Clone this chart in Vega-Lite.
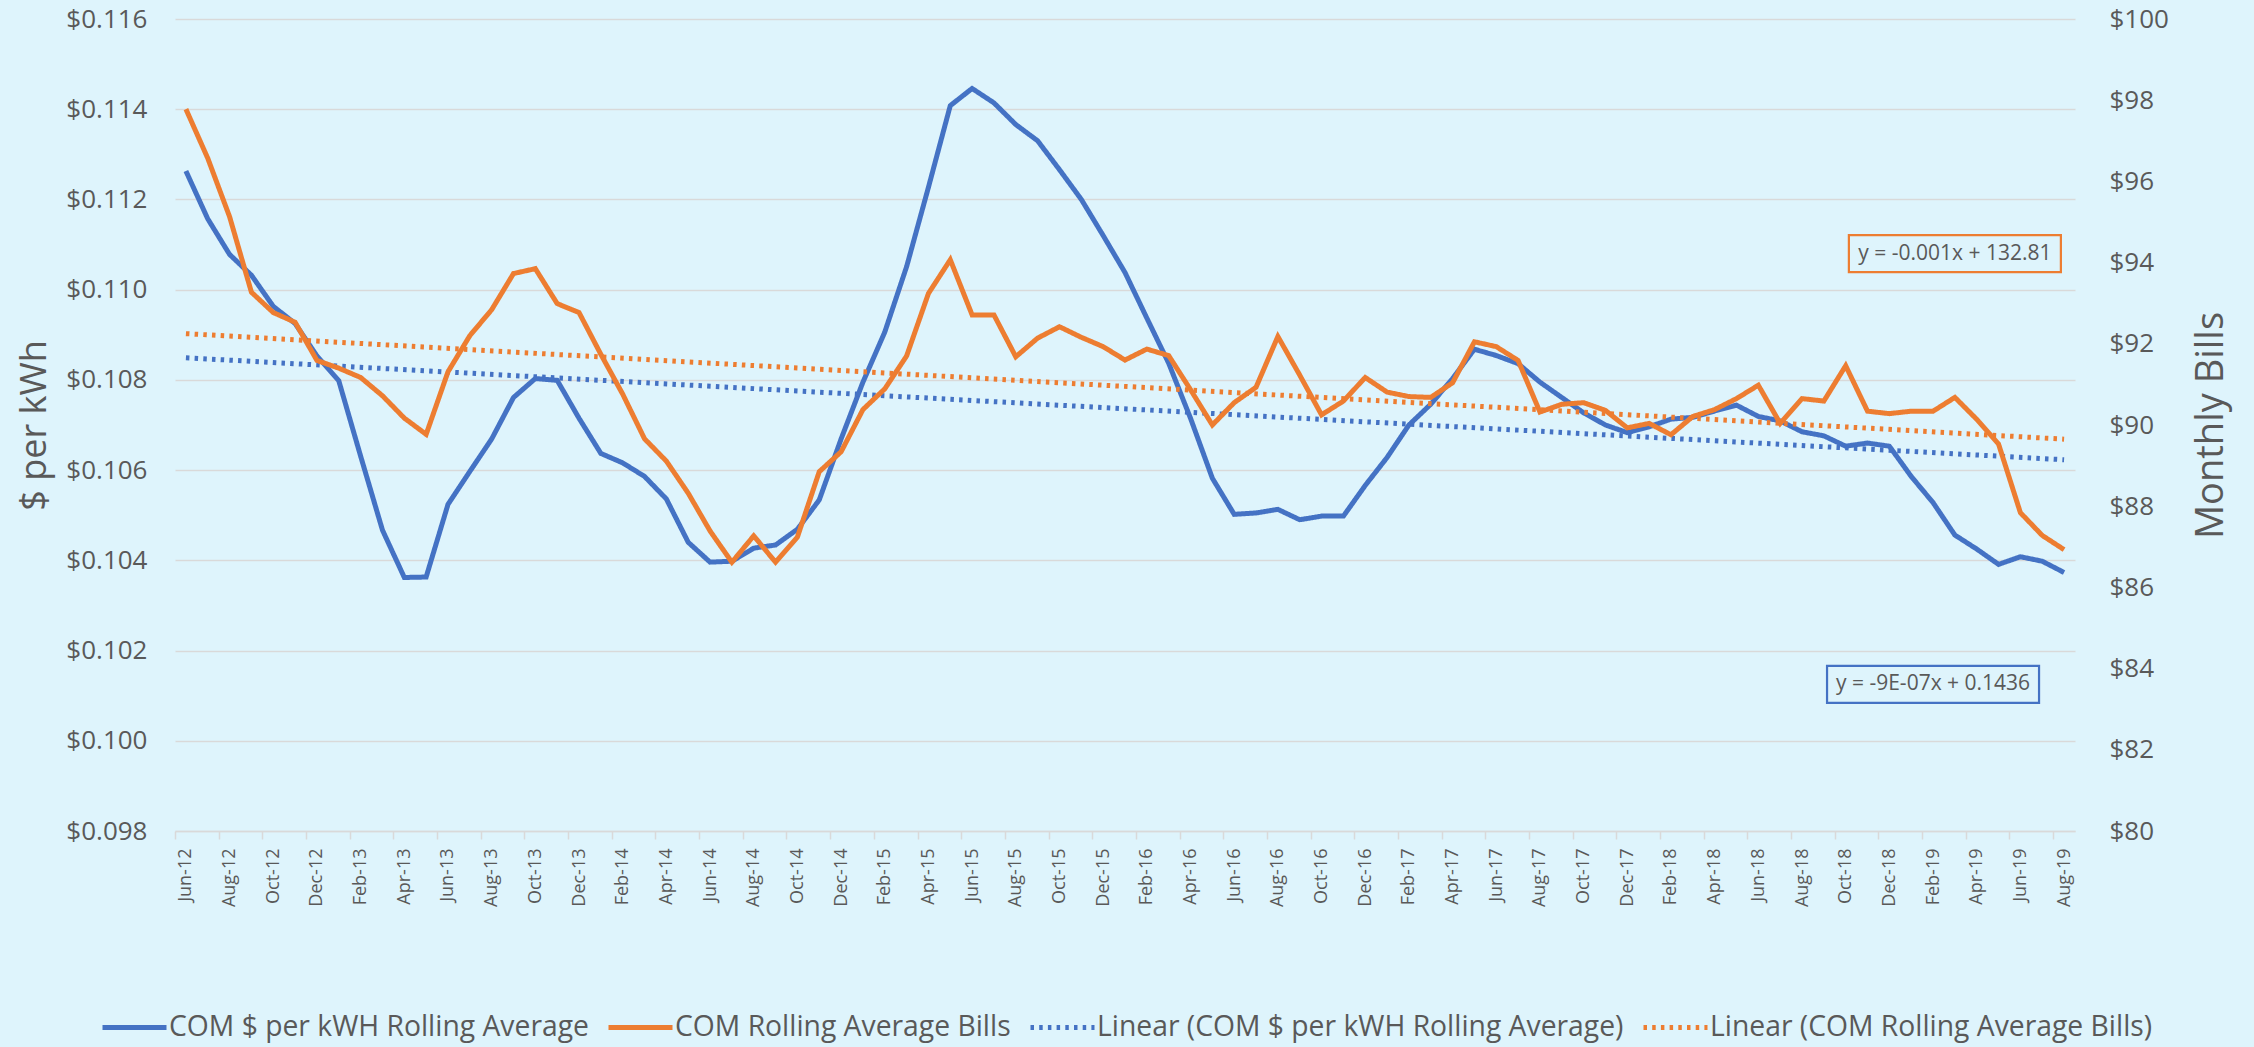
{
"$schema": "https://vega.github.io/schema/vega-lite/v6.json",
"width": 1900, "height": 812,
"autosize": {"type": "none"},
"padding": {"left": 175, "top": 19, "right": 179, "bottom": 216},
"background": "#def4fc",
"config": {
  "view": {"stroke": null},
  "font": "Open Sans",
  "axis": {"labelFont": "Open Sans", "titleFont": "Open Sans", "labelColor": "#595959", "titleColor": "#595959", "titleFontWeight": "normal"},
  "legend": {"labelFont": "Open Sans", "labelFontSize": 28.3, "labelColor": "#595959", "labelLimit": 1000, "symbolType": "stroke", "symbolSize": 4096, "labelOffset": 0, "columnPadding": 9, "direction": "horizontal"}
},
"datasets": {
  "rate": [
    {"month":"Jun-12","series":"COM $ per kWH Rolling Average","value":0.11263},
    {"month":"Jul-12","series":"COM $ per kWH Rolling Average","value":0.11157},
    {"month":"Aug-12","series":"COM $ per kWH Rolling Average","value":0.11078},
    {"month":"Sep-12","series":"COM $ per kWH Rolling Average","value":0.11032},
    {"month":"Oct-12","series":"COM $ per kWH Rolling Average","value":0.10963},
    {"month":"Nov-12","series":"COM $ per kWH Rolling Average","value":0.10925},
    {"month":"Dec-12","series":"COM $ per kWH Rolling Average","value":0.10853},
    {"month":"Jan-13","series":"COM $ per kWH Rolling Average","value":0.10798},
    {"month":"Feb-13","series":"COM $ per kWH Rolling Average","value":0.10631},
    {"month":"Mar-13","series":"COM $ per kWH Rolling Average","value":0.10467},
    {"month":"Apr-13","series":"COM $ per kWH Rolling Average","value":0.10362},
    {"month":"May-13","series":"COM $ per kWH Rolling Average","value":0.10363},
    {"month":"Jun-13","series":"COM $ per kWH Rolling Average","value":0.10524},
    {"month":"Jul-13","series":"COM $ per kWH Rolling Average","value":0.10597},
    {"month":"Aug-13","series":"COM $ per kWH Rolling Average","value":0.10669},
    {"month":"Sep-13","series":"COM $ per kWH Rolling Average","value":0.10761},
    {"month":"Oct-13","series":"COM $ per kWH Rolling Average","value":0.10803},
    {"month":"Nov-13","series":"COM $ per kWH Rolling Average","value":0.10799},
    {"month":"Dec-13","series":"COM $ per kWH Rolling Average","value":0.10715},
    {"month":"Jan-14","series":"COM $ per kWH Rolling Average","value":0.10637},
    {"month":"Feb-14","series":"COM $ per kWH Rolling Average","value":0.10616},
    {"month":"Mar-14","series":"COM $ per kWH Rolling Average","value":0.10586},
    {"month":"Apr-14","series":"COM $ per kWH Rolling Average","value":0.10536},
    {"month":"May-14","series":"COM $ per kWH Rolling Average","value":0.10440},
    {"month":"Jun-14","series":"COM $ per kWH Rolling Average","value":0.10396},
    {"month":"Jul-14","series":"COM $ per kWH Rolling Average","value":0.10398},
    {"month":"Aug-14","series":"COM $ per kWH Rolling Average","value":0.10427},
    {"month":"Sep-14","series":"COM $ per kWH Rolling Average","value":0.10434},
    {"month":"Oct-14","series":"COM $ per kWH Rolling Average","value":0.10469},
    {"month":"Nov-14","series":"COM $ per kWH Rolling Average","value":0.10534},
    {"month":"Dec-14","series":"COM $ per kWH Rolling Average","value":0.10669},
    {"month":"Jan-15","series":"COM $ per kWH Rolling Average","value":0.10795},
    {"month":"Feb-15","series":"COM $ per kWH Rolling Average","value":0.10906},
    {"month":"Mar-15","series":"COM $ per kWH Rolling Average","value":0.11051},
    {"month":"Apr-15","series":"COM $ per kWH Rolling Average","value":0.11227},
    {"month":"May-15","series":"COM $ per kWH Rolling Average","value":0.11408},
    {"month":"Jun-15","series":"COM $ per kWH Rolling Average","value":0.11446},
    {"month":"Jul-15","series":"COM $ per kWH Rolling Average","value":0.11414},
    {"month":"Aug-15","series":"COM $ per kWH Rolling Average","value":0.11366},
    {"month":"Sep-15","series":"COM $ per kWH Rolling Average","value":0.11330},
    {"month":"Oct-15","series":"COM $ per kWH Rolling Average","value":0.11266},
    {"month":"Nov-15","series":"COM $ per kWH Rolling Average","value":0.11200},
    {"month":"Dec-15","series":"COM $ per kWH Rolling Average","value":0.11120},
    {"month":"Jan-16","series":"COM $ per kWH Rolling Average","value":0.11038},
    {"month":"Feb-16","series":"COM $ per kWH Rolling Average","value":0.10937},
    {"month":"Mar-16","series":"COM $ per kWH Rolling Average","value":0.10837},
    {"month":"Apr-16","series":"COM $ per kWH Rolling Average","value":0.10715},
    {"month":"May-16","series":"COM $ per kWH Rolling Average","value":0.10582},
    {"month":"Jun-16","series":"COM $ per kWH Rolling Average","value":0.10502},
    {"month":"Jul-16","series":"COM $ per kWH Rolling Average","value":0.10505},
    {"month":"Aug-16","series":"COM $ per kWH Rolling Average","value":0.10513},
    {"month":"Sep-16","series":"COM $ per kWH Rolling Average","value":0.10490},
    {"month":"Oct-16","series":"COM $ per kWH Rolling Average","value":0.10498},
    {"month":"Nov-16","series":"COM $ per kWH Rolling Average","value":0.10498},
    {"month":"Dec-16","series":"COM $ per kWH Rolling Average","value":0.10566},
    {"month":"Jan-17","series":"COM $ per kWH Rolling Average","value":0.10628},
    {"month":"Feb-17","series":"COM $ per kWH Rolling Average","value":0.10700},
    {"month":"Mar-17","series":"COM $ per kWH Rolling Average","value":0.10746},
    {"month":"Apr-17","series":"COM $ per kWH Rolling Average","value":0.10803},
    {"month":"May-17","series":"COM $ per kWH Rolling Average","value":0.10868},
    {"month":"Jun-17","series":"COM $ per kWH Rolling Average","value":0.10854},
    {"month":"Jul-17","series":"COM $ per kWH Rolling Average","value":0.10836},
    {"month":"Aug-17","series":"COM $ per kWH Rolling Average","value":0.10795},
    {"month":"Sep-17","series":"COM $ per kWH Rolling Average","value":0.10761},
    {"month":"Oct-17","series":"COM $ per kWH Rolling Average","value":0.10727},
    {"month":"Nov-17","series":"COM $ per kWH Rolling Average","value":0.10700},
    {"month":"Dec-17","series":"COM $ per kWH Rolling Average","value":0.10683},
    {"month":"Jan-18","series":"COM $ per kWH Rolling Average","value":0.10696},
    {"month":"Feb-18","series":"COM $ per kWH Rolling Average","value":0.10713},
    {"month":"Mar-18","series":"COM $ per kWH Rolling Average","value":0.10717},
    {"month":"Apr-18","series":"COM $ per kWH Rolling Average","value":0.10731},
    {"month":"May-18","series":"COM $ per kWH Rolling Average","value":0.10744},
    {"month":"Jun-18","series":"COM $ per kWH Rolling Average","value":0.10719},
    {"month":"Jul-18","series":"COM $ per kWH Rolling Average","value":0.10709},
    {"month":"Aug-18","series":"COM $ per kWH Rolling Average","value":0.10685},
    {"month":"Sep-18","series":"COM $ per kWH Rolling Average","value":0.10676},
    {"month":"Oct-18","series":"COM $ per kWH Rolling Average","value":0.10653},
    {"month":"Nov-18","series":"COM $ per kWH Rolling Average","value":0.10660},
    {"month":"Dec-18","series":"COM $ per kWH Rolling Average","value":0.10653},
    {"month":"Jan-19","series":"COM $ per kWH Rolling Average","value":0.10586},
    {"month":"Feb-19","series":"COM $ per kWH Rolling Average","value":0.10528},
    {"month":"Mar-19","series":"COM $ per kWH Rolling Average","value":0.10456},
    {"month":"Apr-19","series":"COM $ per kWH Rolling Average","value":0.10425},
    {"month":"May-19","series":"COM $ per kWH Rolling Average","value":0.10391},
    {"month":"Jun-19","series":"COM $ per kWH Rolling Average","value":0.10408},
    {"month":"Jul-19","series":"COM $ per kWH Rolling Average","value":0.10398},
    {"month":"Aug-19","series":"COM $ per kWH Rolling Average","value":0.10373}
  ],
  "bills": [
    {"month":"Jun-12","series":"COM Rolling Average Bills","value":97.78},
    {"month":"Jul-12","series":"COM Rolling Average Bills","value":96.57},
    {"month":"Aug-12","series":"COM Rolling Average Bills","value":95.13},
    {"month":"Sep-12","series":"COM Rolling Average Bills","value":93.27},
    {"month":"Oct-12","series":"COM Rolling Average Bills","value":92.77},
    {"month":"Nov-12","series":"COM Rolling Average Bills","value":92.53},
    {"month":"Dec-12","series":"COM Rolling Average Bills","value":91.59},
    {"month":"Jan-13","series":"COM Rolling Average Bills","value":91.40},
    {"month":"Feb-13","series":"COM Rolling Average Bills","value":91.17},
    {"month":"Mar-13","series":"COM Rolling Average Bills","value":90.72},
    {"month":"Apr-13","series":"COM Rolling Average Bills","value":90.17},
    {"month":"May-13","series":"COM Rolling Average Bills","value":89.77},
    {"month":"Jun-13","series":"COM Rolling Average Bills","value":91.31},
    {"month":"Jul-13","series":"COM Rolling Average Bills","value":92.20},
    {"month":"Aug-13","series":"COM Rolling Average Bills","value":92.84},
    {"month":"Sep-13","series":"COM Rolling Average Bills","value":93.73},
    {"month":"Oct-13","series":"COM Rolling Average Bills","value":93.85},
    {"month":"Nov-13","series":"COM Rolling Average Bills","value":92.99},
    {"month":"Dec-13","series":"COM Rolling Average Bills","value":92.77},
    {"month":"Jan-14","series":"COM Rolling Average Bills","value":91.74},
    {"month":"Feb-14","series":"COM Rolling Average Bills","value":90.76},
    {"month":"Mar-14","series":"COM Rolling Average Bills","value":89.66},
    {"month":"Apr-14","series":"COM Rolling Average Bills","value":89.11},
    {"month":"May-14","series":"COM Rolling Average Bills","value":88.32},
    {"month":"Jun-14","series":"COM Rolling Average Bills","value":87.39},
    {"month":"Jul-14","series":"COM Rolling Average Bills","value":86.62},
    {"month":"Aug-14","series":"COM Rolling Average Bills","value":87.27},
    {"month":"Sep-14","series":"COM Rolling Average Bills","value":86.62},
    {"month":"Oct-14","series":"COM Rolling Average Bills","value":87.24},
    {"month":"Nov-14","series":"COM Rolling Average Bills","value":88.85},
    {"month":"Dec-14","series":"COM Rolling Average Bills","value":89.34},
    {"month":"Jan-15","series":"COM Rolling Average Bills","value":90.38},
    {"month":"Feb-15","series":"COM Rolling Average Bills","value":90.89},
    {"month":"Mar-15","series":"COM Rolling Average Bills","value":91.70},
    {"month":"Apr-15","series":"COM Rolling Average Bills","value":93.24},
    {"month":"May-15","series":"COM Rolling Average Bills","value":94.07},
    {"month":"Jun-15","series":"COM Rolling Average Bills","value":92.71},
    {"month":"Jul-15","series":"COM Rolling Average Bills","value":92.71},
    {"month":"Aug-15","series":"COM Rolling Average Bills","value":91.68},
    {"month":"Sep-15","series":"COM Rolling Average Bills","value":92.14},
    {"month":"Oct-15","series":"COM Rolling Average Bills","value":92.42},
    {"month":"Nov-15","series":"COM Rolling Average Bills","value":92.16},
    {"month":"Dec-15","series":"COM Rolling Average Bills","value":91.93},
    {"month":"Jan-16","series":"COM Rolling Average Bills","value":91.60},
    {"month":"Feb-16","series":"COM Rolling Average Bills","value":91.87},
    {"month":"Mar-16","series":"COM Rolling Average Bills","value":91.71},
    {"month":"Apr-16","series":"COM Rolling Average Bills","value":90.87},
    {"month":"May-16","series":"COM Rolling Average Bills","value":90.00},
    {"month":"Jun-16","series":"COM Rolling Average Bills","value":90.55},
    {"month":"Jul-16","series":"COM Rolling Average Bills","value":90.93},
    {"month":"Aug-16","series":"COM Rolling Average Bills","value":92.18},
    {"month":"Sep-16","series":"COM Rolling Average Bills","value":91.23},
    {"month":"Oct-16","series":"COM Rolling Average Bills","value":90.25},
    {"month":"Nov-16","series":"COM Rolling Average Bills","value":90.59},
    {"month":"Dec-16","series":"COM Rolling Average Bills","value":91.17},
    {"month":"Jan-17","series":"COM Rolling Average Bills","value":90.81},
    {"month":"Feb-17","series":"COM Rolling Average Bills","value":90.70},
    {"month":"Mar-17","series":"COM Rolling Average Bills","value":90.68},
    {"month":"Apr-17","series":"COM Rolling Average Bills","value":91.04},
    {"month":"May-17","series":"COM Rolling Average Bills","value":92.05},
    {"month":"Jun-17","series":"COM Rolling Average Bills","value":91.93},
    {"month":"Jul-17","series":"COM Rolling Average Bills","value":91.59},
    {"month":"Aug-17","series":"COM Rolling Average Bills","value":90.32},
    {"month":"Sep-17","series":"COM Rolling Average Bills","value":90.51},
    {"month":"Oct-17","series":"COM Rolling Average Bills","value":90.55},
    {"month":"Nov-17","series":"COM Rolling Average Bills","value":90.36},
    {"month":"Dec-17","series":"COM Rolling Average Bills","value":89.93},
    {"month":"Jan-18","series":"COM Rolling Average Bills","value":90.04},
    {"month":"Feb-18","series":"COM Rolling Average Bills","value":89.76},
    {"month":"Mar-18","series":"COM Rolling Average Bills","value":90.21},
    {"month":"Apr-18","series":"COM Rolling Average Bills","value":90.38},
    {"month":"May-18","series":"COM Rolling Average Bills","value":90.65},
    {"month":"Jun-18","series":"COM Rolling Average Bills","value":90.98},
    {"month":"Jul-18","series":"COM Rolling Average Bills","value":90.04},
    {"month":"Aug-18","series":"COM Rolling Average Bills","value":90.65},
    {"month":"Sep-18","series":"COM Rolling Average Bills","value":90.59},
    {"month":"Oct-18","series":"COM Rolling Average Bills","value":91.46},
    {"month":"Nov-18","series":"COM Rolling Average Bills","value":90.34},
    {"month":"Dec-18","series":"COM Rolling Average Bills","value":90.28},
    {"month":"Jan-19","series":"COM Rolling Average Bills","value":90.34},
    {"month":"Feb-19","series":"COM Rolling Average Bills","value":90.34},
    {"month":"Mar-19","series":"COM Rolling Average Bills","value":90.68},
    {"month":"Apr-19","series":"COM Rolling Average Bills","value":90.14},
    {"month":"May-19","series":"COM Rolling Average Bills","value":89.53},
    {"month":"Jun-19","series":"COM Rolling Average Bills","value":87.84},
    {"month":"Jul-19","series":"COM Rolling Average Bills","value":87.28},
    {"month":"Aug-19","series":"COM Rolling Average Bills","value":86.93}
  ],
  "rateTrend": [
    {"month":"Jun-12","series":"Linear (COM $ per kWH Rolling Average)","value":0.10849},
    {"month":"Aug-19","series":"Linear (COM $ per kWH Rolling Average)","value":0.10623}
  ],
  "billsTrend": [
    {"month":"Jun-12","series":"Linear (COM Rolling Average Bills)","value":92.25},
    {"month":"Aug-19","series":"Linear (COM Rolling Average Bills)","value":89.65}
  ],
  "rateNote": [{"month":"Feb-19","value":0.10125,"label":"y = -9E-07x + 0.1436"}],
  "billsNote": [{"month":"Mar-19","value":94.22,"label":"y = -0.001x + 132.81"}]
},
"layer": [
  {
    "layer": [
      {
        "data": {"name": "rate"},
        "mark": {"type": "line"},
        "encoding": {
          "x": {"field": "month", "type": "ordinal",
            "scale": {"type": "point", "padding": 0.5, "domain": ["Jun-12","Jul-12","Aug-12","Sep-12","Oct-12","Nov-12","Dec-12","Jan-13","Feb-13","Mar-13","Apr-13","May-13","Jun-13","Jul-13","Aug-13","Sep-13","Oct-13","Nov-13","Dec-13","Jan-14","Feb-14","Mar-14","Apr-14","May-14","Jun-14","Jul-14","Aug-14","Sep-14","Oct-14","Nov-14","Dec-14","Jan-15","Feb-15","Mar-15","Apr-15","May-15","Jun-15","Jul-15","Aug-15","Sep-15","Oct-15","Nov-15","Dec-15","Jan-16","Feb-16","Mar-16","Apr-16","May-16","Jun-16","Jul-16","Aug-16","Sep-16","Oct-16","Nov-16","Dec-16","Jan-17","Feb-17","Mar-17","Apr-17","May-17","Jun-17","Jul-17","Aug-17","Sep-17","Oct-17","Nov-17","Dec-17","Jan-18","Feb-18","Mar-18","Apr-18","May-18","Jun-18","Jul-18","Aug-18","Sep-18","Oct-18","Nov-18","Dec-18","Jan-19","Feb-19","Mar-19","Apr-19","May-19","Jun-19","Jul-19","Aug-19"]},
            "axis": {"values": ["Jun-12","Aug-12","Oct-12","Dec-12","Feb-13","Apr-13","Jun-13","Aug-13","Oct-13","Dec-13","Feb-14","Apr-14","Jun-14","Aug-14","Oct-14","Dec-14","Feb-15","Apr-15","Jun-15","Aug-15","Oct-15","Dec-15","Feb-16","Apr-16","Jun-16","Aug-16","Oct-16","Dec-16","Feb-17","Apr-17","Jun-17","Aug-17","Oct-17","Dec-17","Feb-18","Apr-18","Jun-18","Aug-18","Oct-18","Dec-18","Feb-19","Apr-19","Jun-19","Aug-19"],
              "title": null, "labelAngle": -90, "labelFontSize": 18, "labelOverlap": false, "labelPadding": 9,
              "tickColor": "#d9d9d9", "tickSize": 8, "tickWidth": 1.5, "tickOffset": -10.92, "labelOffset": 10.92,
              "domainColor": "#d9d9d9", "domainWidth": 1.5, "grid": false}},
          "y": {"field": "value", "type": "quantitative",
            "scale": {"domain": [0.098, 0.116], "nice": false, "zero": false},
            "axis": {"values": [0.098,0.100,0.102,0.104,0.106,0.108,0.110,0.112,0.114,0.116], "format": "$.3f",
              "labelFontSize": 26, "labelPadding": 28, "domain": false, "ticks": false,
              "grid": true, "gridColor": "#d9d9d9", "gridWidth": 1.5,
              "title": "$ per kWh", "titleFontSize": 36, "titlePadding": 12}},
          "color": {"field": "series", "type": "nominal",
            "scale": {"domain": ["COM $ per kWH Rolling Average","COM Rolling Average Bills","Linear (COM $ per kWH Rolling Average)","Linear (COM Rolling Average Bills)"], "range": ["#4472C4","#ED7D31","#4472C4","#ED7D31"]},
            "legend": {"title": null, "orient": "none", "legendX": -75, "legendY": 974, "direction": "horizontal"}},
          "strokeDash": {"field": "series", "type": "nominal",
            "scale": {"domain": ["COM $ per kWH Rolling Average","COM Rolling Average Bills","Linear (COM $ per kWH Rolling Average)","Linear (COM Rolling Average Bills)"], "range": [[1,0],[1,0],[3.5,5.2],[3.5,5.2]]},
            "legend": {"title": null, "orient": "none", "legendX": -75, "legendY": 974, "direction": "horizontal"}},
          "strokeWidth": {"field": "series", "type": "nominal",
            "scale": {"domain": ["COM $ per kWH Rolling Average","COM Rolling Average Bills","Linear (COM $ per kWH Rolling Average)","Linear (COM Rolling Average Bills)"], "range": [5,5,3.5,3.5]},
            "legend": {"title": null, "orient": "none", "legendX": -75, "legendY": 974, "direction": "horizontal"}}
        }
      },
      {
        "data": {"name": "rateTrend"},
        "mark": {"type": "line"},
        "encoding": {
          "x": {"field": "month", "type": "ordinal"},
          "y": {"field": "value", "type": "quantitative"},
          "color": {"field": "series", "type": "nominal"},
          "strokeDash": {"field": "series", "type": "nominal"},
          "strokeWidth": {"field": "series", "type": "nominal"}
        }
      },
      {
        "data": {"name": "rateNote"},
        "mark": {"type": "point", "shape": "M-1,-0.1745L1,-0.1745L1,0.1745L-1,0.1745Z", "size": 44944, "filled": false, "stroke": "#4472C4", "strokeWidth": 2.2, "opacity": 1},
        "encoding": {
          "x": {"field": "month", "type": "ordinal"},
          "y": {"field": "value", "type": "quantitative"}
        }
      },
      {
        "data": {"name": "rateNote"},
        "mark": {"type": "text", "font": "Open Sans", "fontSize": 21, "color": "#595959", "align": "center", "baseline": "middle"},
        "encoding": {
          "x": {"field": "month", "type": "ordinal"},
          "y": {"field": "value", "type": "quantitative"},
          "text": {"field": "label"}
        }
      }
    ]
  },
  {
    "layer": [
      {
        "data": {"name": "bills"},
        "mark": {"type": "line"},
        "encoding": {
          "x": {"field": "month", "type": "ordinal"},
          "y": {"field": "value", "type": "quantitative",
            "scale": {"domain": [80, 100], "nice": false, "zero": false},
            "axis": {"orient": "right", "values": [80,82,84,86,88,90,92,94,96,98,100], "format": "$.0f",
              "labelFontSize": 26, "labelPadding": 34, "domain": false, "ticks": false, "grid": false,
              "title": "Monthly Bills", "titleFontSize": 38, "titleAngle": 270, "titlePadding": 62}},
          "color": {"field": "series", "type": "nominal"},
          "strokeDash": {"field": "series", "type": "nominal"},
          "strokeWidth": {"field": "series", "type": "nominal"}
        }
      },
      {
        "data": {"name": "billsTrend"},
        "mark": {"type": "line"},
        "encoding": {
          "x": {"field": "month", "type": "ordinal"},
          "y": {"field": "value", "type": "quantitative"},
          "color": {"field": "series", "type": "nominal"},
          "strokeDash": {"field": "series", "type": "nominal"},
          "strokeWidth": {"field": "series", "type": "nominal"}
        }
      },
      {
        "data": {"name": "billsNote"},
        "mark": {"type": "point", "shape": "M-1,-0.1745L1,-0.1745L1,0.1745L-1,0.1745Z", "size": 44944, "filled": false, "stroke": "#ED7D31", "strokeWidth": 2.2, "opacity": 1},
        "encoding": {
          "x": {"field": "month", "type": "ordinal"},
          "y": {"field": "value", "type": "quantitative"}
        }
      },
      {
        "data": {"name": "billsNote"},
        "mark": {"type": "text", "font": "Open Sans", "fontSize": 21, "color": "#595959", "align": "center", "baseline": "middle"},
        "encoding": {
          "x": {"field": "month", "type": "ordinal"},
          "y": {"field": "value", "type": "quantitative"},
          "text": {"field": "label"}
        }
      }
    ]
  }
],
"resolve": {"scale": {"y": "independent"}}
}
